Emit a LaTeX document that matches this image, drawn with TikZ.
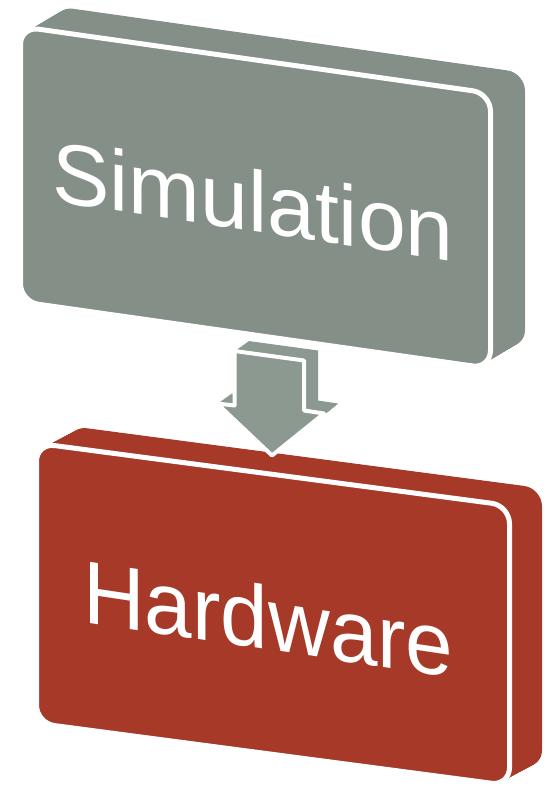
\documentclass[tikz,border=0pt]{standalone}
\usepackage{fontspec}
\setmainfont{Liberation Sans}
\definecolor{simgray}{RGB}{132,143,136}
\definecolor{arrowgray}{RGB}{140,153,145}
\definecolor{hwred}{RGB}{166,57,39}
\tikzset{
  % front faces of the two slabs and of the block arrow (outline centre lines)
  simface/.style={insert path={(20.5,26.6) -- (490.5,93.3) -- (490.5,368.5) -- (20.5,301.7) -- cycle}},
  hwface/.style={insert path={(36.5,443.2) -- (509.5,505.6) -- (509.5,785.6) -- (36.5,723.2) -- cycle}},
  arrowface/.style={insert path={(234.5,351) -- (304,360.5) -- (304,410.5) -- (324,413.5) -- (272,455.5) -- (217,403.5) -- (234.5,405.5) -- cycle}},
  rim/.style={draw=white, line width=5pt, line join=round},
  label/.style={text=white, anchor=base west, inner sep=0pt, yslant=-0.15},
}
\begin{document}
\begin{tikzpicture}[x=1pt,y=-1pt]
\useasboundingbox (0,0) rectangle (548,785);

% Hardware slab: depth built from stacked copies, then the front face
\foreach \t in {1,...,40}
  {\fill[hwred, rounded corners=18pt, shift={(32.5*\t/40,-17.3*\t/40)}, hwface];}
\filldraw[fill=hwred, rim, rounded corners=18pt, hwface];

% block arrow between the slabs
\foreach \t in {1,...,20}
  {\fill[arrowgray, shift={(14*\t/20,-10*\t/20)}, arrowface];}
\filldraw[fill=arrowgray, rim, line width=4pt, arrowface];

% Simulation slab
\foreach \t in {1,...,40}
  {\fill[simgray, rounded corners=18pt, shift={(34.5*\t/40,-20.4*\t/40)}, simface];}
\filldraw[fill=simgray, rim, rounded corners=18pt, simface];

\node[label, font=\fontsize{86}{90}\selectfont] (sim) at (52,201) {Simulation};
\node[label, xscale=0.96, font=\fontsize{89}{92}\selectfont] (hw) at (83,622) {Hardware};
\end{tikzpicture}
\end{document}
